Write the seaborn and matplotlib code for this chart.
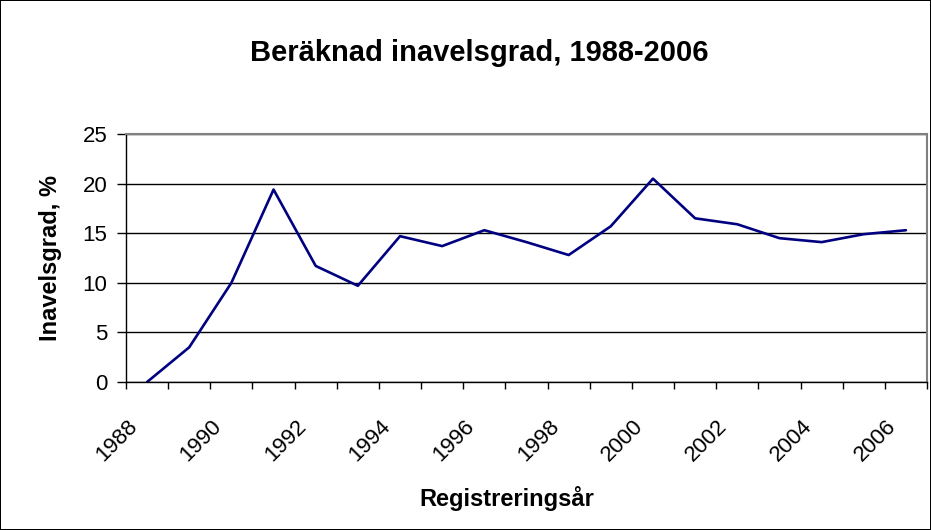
import matplotlib
matplotlib.use("Agg")
import matplotlib.pyplot as plt
import seaborn as sns
import numpy as np
import pandas as pd

# Data
years = [1988, 1989, 1990, 1991, 1992, 1993, 1994, 1995, 1996, 1997,
         1998, 1999, 2000, 2001, 2002, 2003, 2004, 2005, 2006]
inbreeding = [0.0, 3.5, 10.0, 19.4, 11.7, 9.7, 14.7, 13.7, 15.3, 14.1,
              12.8, 15.7, 20.5, 16.5, 15.9, 14.5, 14.1, 14.9, 15.3]
y_ticks = [0, 5, 10, 15, 20, 25]

df = pd.DataFrame({"pos": np.arange(len(years)), "grad": inbreeding})

sns.set_style("white")
plt.rcParams["font.family"] = ["Liberation Sans", "DejaVu Sans"]
plt.rcParams["text.color"] = "black"
plt.rcParams["axes.labelcolor"] = "black"
plt.rcParams["xtick.color"] = "black"
plt.rcParams["ytick.color"] = "black"

fig = plt.figure(figsize=(9.31, 5.3), dpi=100, facecolor="white",
                 edgecolor="black", linewidth=1.2)
ax = fig.add_axes([126 / 931, 1 - 382 / 530, (927 - 126) / 931, (382 - 134) / 530])

sns.lineplot(data=df, x="pos", y="grad", ax=ax, color="#000080", linewidth=1.9)

ax.set_yticks(y_ticks)
ax.yaxis.grid(True, color="black", linewidth=1)
ax.set_axisbelow(True)

# labels for every other year (ends sit a little left of the category centre),
# tick marks between categories
ax.set_xticks(np.arange(0, len(years), 2) - 0.48)
ax.set_xticklabels([str(y) for y in years[::2]], rotation=45, ha="right",
                   rotation_mode="anchor", fontsize=16)
ax.set_xticks(np.arange(-0.5, len(years), 1), minor=True)
ax.tick_params(axis="x", which="major", length=0, pad=24)
ax.tick_params(axis="x", which="minor", length=5, width=1, direction="out")
ax.tick_params(axis="y", length=6.5, width=1, direction="out", labelsize=16, pad=7)
ax.xaxis.set_ticks_position("bottom")
ax.yaxis.set_ticks_position("left")

ax.set_xlim(-0.5, len(years) - 0.5)
ax.set_ylim(0, 25)

for side in ["left", "bottom"]:
    ax.spines[side].set_color("black")
    ax.spines[side].set_linewidth(1)
for side in ["top", "right"]:
    ax.spines[side].set_color("#808080")
    ax.spines[side].set_linewidth(1.5)

ax.set_xlabel("Registreringsår", fontsize=17, fontweight="bold")
ax.set_ylabel("Inavelsgrad, %", fontsize=17, fontweight="bold")
ax.xaxis.set_label_coords((507 - 126) / 801, (382 - 486) / 248)
ax.yaxis.set_label_coords((62 - 126) / 801, 0.5)
fig.text(479 / 931, 1 - 53 / 530, "Beräknad inavelsgrad, 1988-2006", ha="center",
         va="center", fontsize=21, fontweight="bold")

fig.savefig("out.png", dpi=100, facecolor="white", edgecolor=fig.get_edgecolor())
